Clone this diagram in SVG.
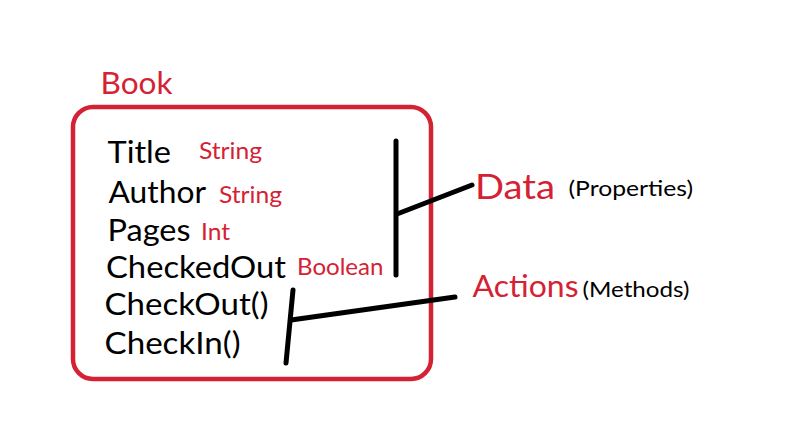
<svg xmlns="http://www.w3.org/2000/svg" width="789" height="444" viewBox="0 0 789 444">
<style>
.red{fill:#d42234;font-family:Lato,"Liberation Sans",sans-serif}
.blk{fill:#000;font-family:Lato,"Liberation Sans",sans-serif}
.prop{font-size:31.5px}
.type{font-size:22.5px}
.ln{stroke:#000;stroke-width:5;stroke-linecap:round;fill:none}
</style>
<rect width="789" height="444" fill="#fff"/>
<g id="book">
<text class="red" x="100.5" y="94.3" font-size="31.5" textLength="72" lengthAdjust="spacingAndGlyphs">Book</text>
<rect x="73" y="107" width="358" height="272" rx="20" ry="20" fill="none" stroke="#d42234" stroke-width="4.5"/>
<text class="blk prop" x="107.5" y="163.3" textLength="63.5" lengthAdjust="spacingAndGlyphs">Title</text>
<text class="red type" x="199" y="159.3" textLength="63" lengthAdjust="spacingAndGlyphs">String</text>
<text class="blk prop" x="108.5" y="203" textLength="97.5" lengthAdjust="spacingAndGlyphs">Author</text>
<text class="red type" x="219" y="202.5" textLength="63" lengthAdjust="spacingAndGlyphs">String</text>
<text class="blk prop" x="107.5" y="240.5" textLength="83" lengthAdjust="spacingAndGlyphs">Pages</text>
<text class="red type" x="201" y="240" textLength="29" lengthAdjust="spacingAndGlyphs">Int</text>
<text class="blk prop" x="106" y="278" textLength="180" lengthAdjust="spacingAndGlyphs">CheckedOut</text>
<text class="red type" x="297" y="275" textLength="86.5" lengthAdjust="spacingAndGlyphs">Boolean</text>
<text class="blk prop" x="104.5" y="315" textLength="164" lengthAdjust="spacingAndGlyphs">CheckOut()</text>
<text class="blk prop" x="104.5" y="354" textLength="136" lengthAdjust="spacingAndGlyphs">CheckIn()</text>
</g>
<g id="data">
<text class="red" x="475" y="199.3" font-size="34" textLength="80" lengthAdjust="spacingAndGlyphs">Data</text>
<text class="blk" x="568.5" y="196" font-size="21.5" textLength="124.5" lengthAdjust="spacingAndGlyphs">(Properties)</text>
</g>
<g id="actions">
<text class="red" x="472.5" y="297.3" font-size="31.5" textLength="106" lengthAdjust="spacingAndGlyphs">Actions</text>
<text class="blk" x="582.5" y="296.7" font-size="22" textLength="107" lengthAdjust="spacingAndGlyphs">(Methods)</text>
</g>
<g id="connectors">
<line class="ln" x1="396" y1="141" x2="396" y2="275"/>
<line class="ln" x1="397" y1="214" x2="472" y2="185"/>
<line class="ln" x1="293" y1="290" x2="286" y2="363"/>
<line class="ln" x1="291" y1="320" x2="455" y2="297"/>
</g>
</svg>
